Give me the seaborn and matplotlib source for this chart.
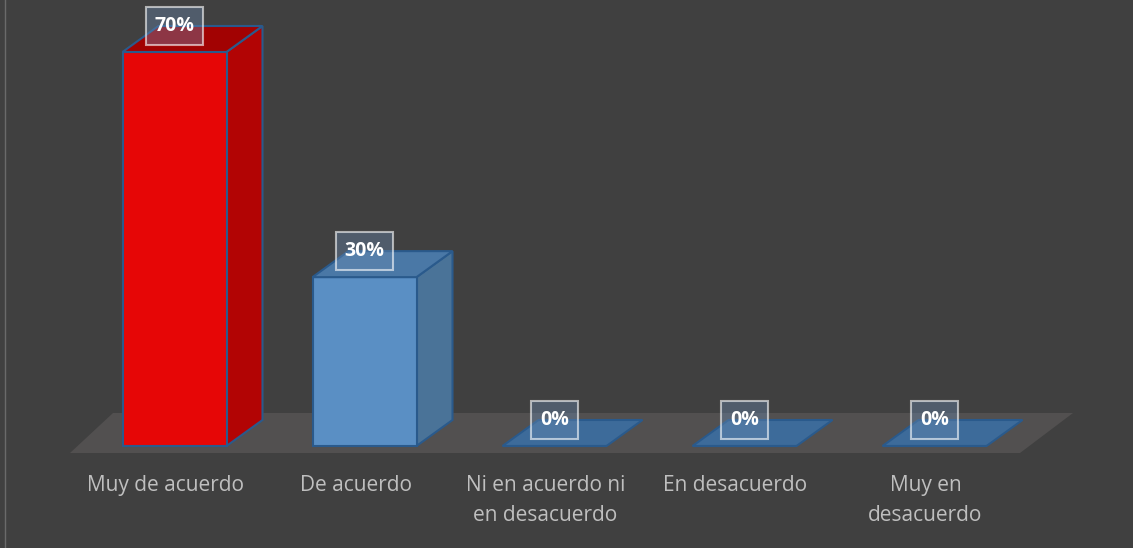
import matplotlib
matplotlib.use("Agg")
import matplotlib.pyplot as plt
import seaborn as sns
import numpy as np
from matplotlib.patches import Polygon

categories = ["Muy de acuerdo", "De acuerdo", "Ni en acuerdo ni\nen desacuerdo",
              "En desacuerdo", "Muy en\ndesacuerdo"]
values = [70, 30, 0, 0, 0]
labels = ["70%", "30%", "0%", "0%", "0%"]
front_colors = ["#E60606", "#5A8FC4", "#3D6B9A", "#3D6B9A", "#3D6B9A"]
top_colors = ["#A20202", "#4A78A6", "#3D6B9A", "#3D6B9A", "#3D6B9A"]
side_colors = ["#B20404", "#4A7398", "#3D6B9A", "#3D6B9A", "#3D6B9A"]

BG = "#404040"
W, H = 1133, 548
fig = plt.figure(figsize=(W / 100, H / 100), dpi=100, facecolor=BG)
ax = fig.add_axes([0, 0, 1, 1])
ax.set_facecolor(BG)

# pixel mapping
px_per_cat = 190.0
x0_px = 174.5
px_per_val = 394.0 / 70.0
y0_px = 446.0
ax.set_xlim(-x0_px / px_per_cat, (W - x0_px) / px_per_cat)
ax.set_ylim((y0_px - H) / px_per_val, y0_px / px_per_val)

def dx(px):
    return px / px_per_cat

def dy(px):
    return px / px_per_val

bw = 104 / px_per_cat
ddx, ddy = dx(36), dy(26)

# floor
floor = Polygon([(dx(70 - x0_px), -dy(7)), (dx(1020 - x0_px), -dy(7)),
                 (dx(1073 - x0_px), dy(33)), (dx(113 - x0_px), dy(33))],
                closed=True, facecolor="#525050", edgecolor="none", zorder=0)
ax.add_patch(floor)

xs = np.arange(len(categories))
sns.barplot(x=xs, y=values, hue=xs, palette=front_colors, legend=False,
            width=bw, ax=ax, native_scale=True, edgecolor="#2A5A8C",
            linewidth=1.5, saturation=1, zorder=3)

edge = "#2A5A8C"
for i, v in enumerate(values):
    l, r = i - bw / 2, i + bw / 2
    if v > 0:
        side = Polygon([(r, 0), (r + ddx, ddy), (r + ddx, v + ddy), (r, v)],
                       closed=True, facecolor=side_colors[i], edgecolor=edge,
                       linewidth=1.5, zorder=2)
        ax.add_patch(side)
    top = Polygon([(l, v), (r, v), (r + ddx, v + ddy), (l + ddx, v + ddy)],
                  closed=True, facecolor=top_colors[i], edgecolor=edge,
                  linewidth=1.5, zorder=4 if v > 0 else 2)
    ax.add_patch(top)
    # data label
    ax.text(i, v + ddy, labels[i], ha="center", va="center", color="white",
            fontsize=14, fontweight="bold", family="Open Sans", zorder=6,
            bbox=dict(boxstyle="square,pad=0.45", facecolor=(0.42, 0.55, 0.70, 0.38),
                      edgecolor=(1, 1, 1, 0.6), linewidth=1.5))
    # category label
    ax.text(i - dx(9), -dy(29), categories[i], ha="center", va="top",
            color="#BFBFBF", fontsize=15, family="Open Sans",
            linespacing=1.55, zorder=6)

ax.axis("off")
ax.plot([dx(5 - x0_px)] * 2, ax.get_ylim(), color="#6A6A6A", lw=1, zorder=1)
fig.savefig("out.png", dpi=100, facecolor=BG)
